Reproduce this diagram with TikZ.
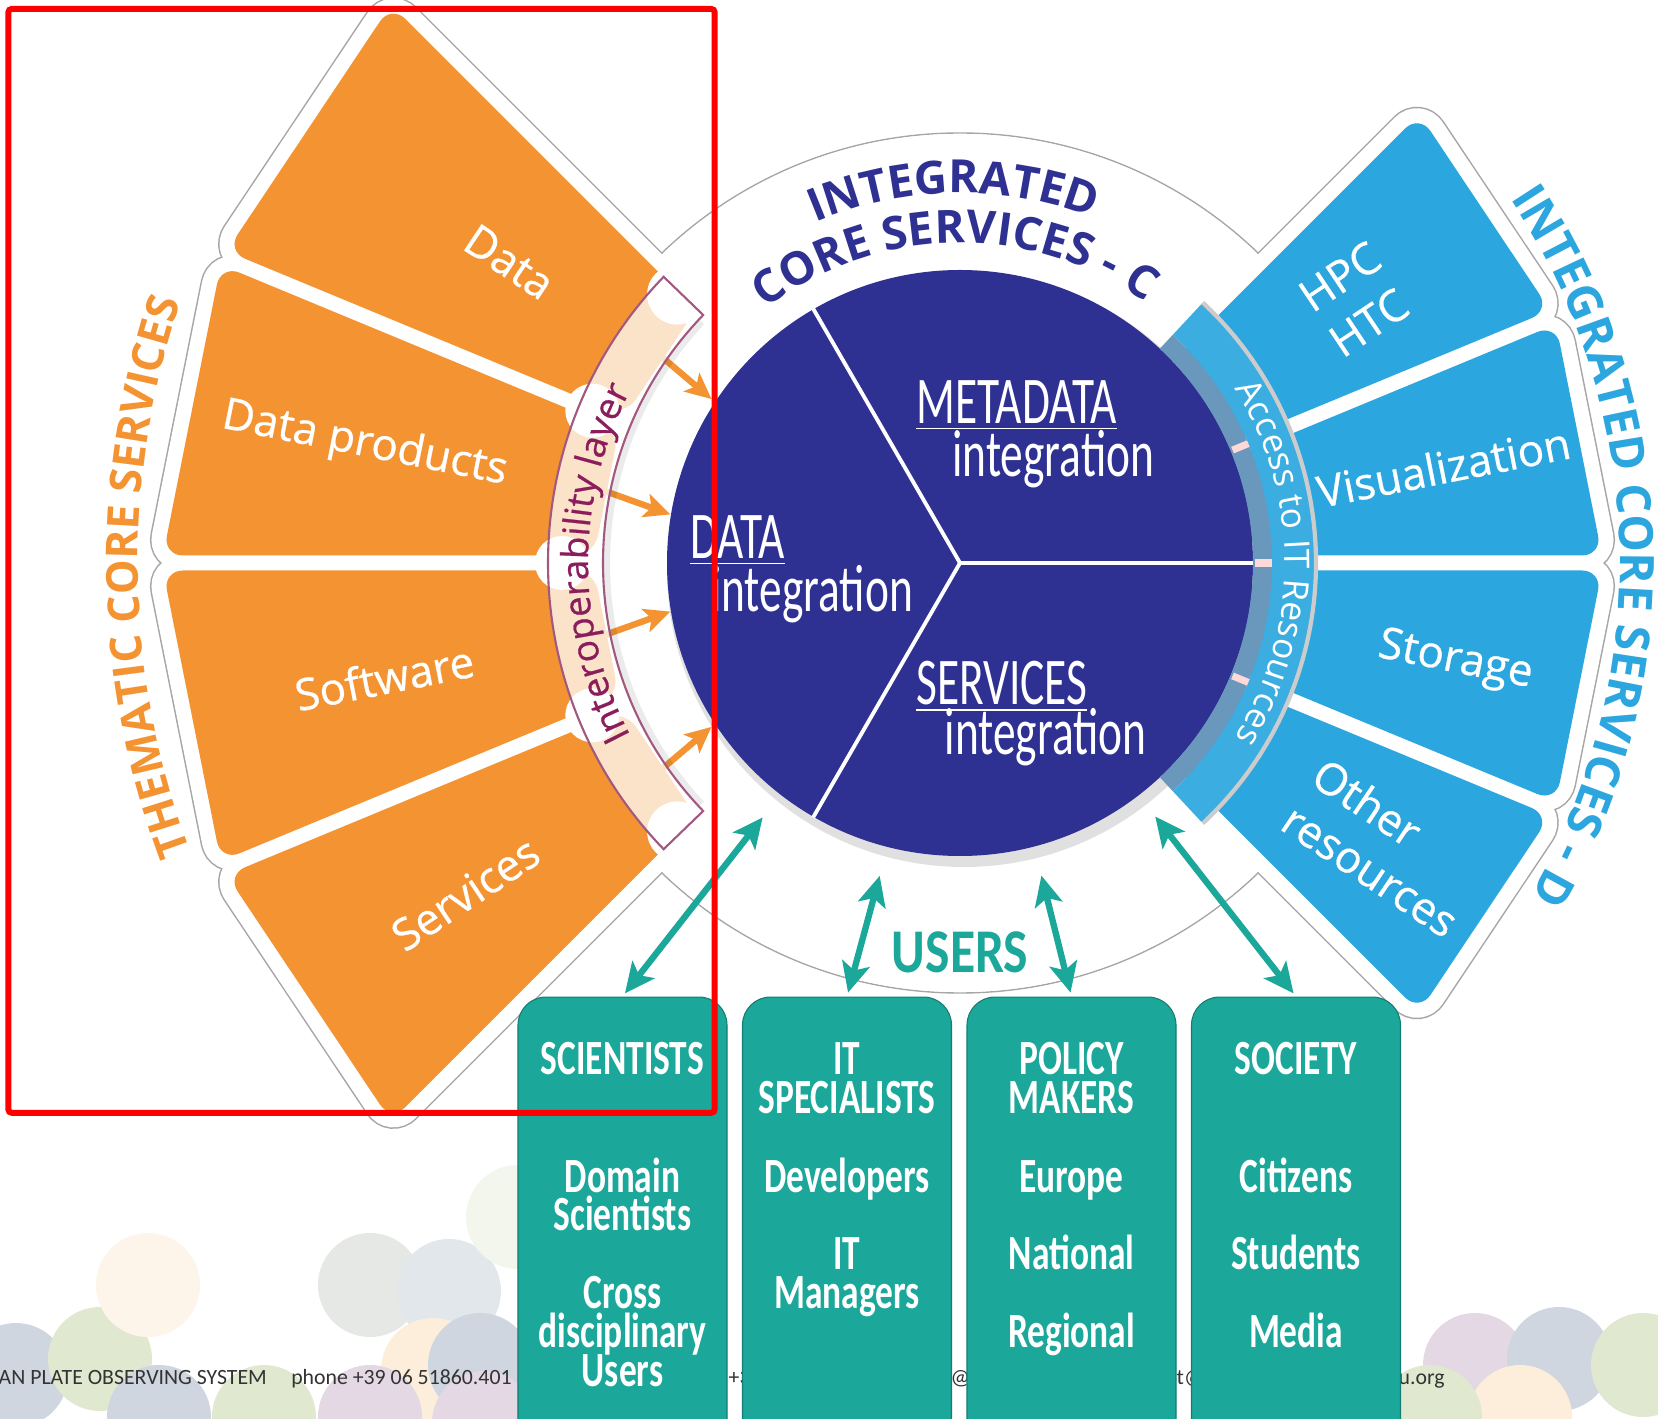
\documentclass[tikz,border=0pt]{standalone}
\usepackage{fontspec}
\setmainfont{Carlito}
\newfontfamily\titlefont{Open Sans}
\newfontfamily\labelfont[FakeBold=0.6]{Open Sans}
\newfontfamily\boxfont[FakeStretch=0.72]{Carlito}
\newfontfamily\usersfont[FakeStretch=0.83]{Carlito}
\newfontfamily\circfont[FakeStretch=0.68]{Carlito}
\usetikzlibrary{calc,positioning,arrows.meta,decorations.text}

\definecolor{tcsorange}{HTML}{F39332}
\definecolor{icsblue}{HTML}{2BA6DE}
\definecolor{icsnavy}{HTML}{2E3192}
\definecolor{userteal}{HTML}{1BA799}
\definecolor{interplum}{HTML}{8B1D5C}
\definecolor{interline}{HTML}{A35880}
\definecolor{accessgrey}{HTML}{6A97BC}
\definecolor{dotblue}{HTML}{CFD6E0}
\definecolor{dotgreen}{HTML}{E1E8D0}
\definecolor{dotpeach}{HTML}{FCEEDA}
\definecolor{dotlav}{HTML}{E3D8E3}
\definecolor{dotgrey}{HTML}{E6E8E5}

% one block of a fan, pulled in from both divider lines
\newcommand\fanblock[5]{($(#1:#3)+(#1+90:#5)$) -- ($(#1:#4)+(#1+90:#5)$) -- ($(#2:#4)+(#2-90:#5)$) -- ($(#2:#3)+(#2-90:#5)$) -- cycle}
% piece of a ring
\newcommand\ringpart[4]{(#1:#3) arc[start angle=#1, end angle=#2, radius=#3] -- (#2:#4) arc[start angle=#2, end angle=#1, radius=#4] -- cycle}

\tikzset{
  fanedge/.style={draw=black!35, line width=0.33cm, rounded corners=0.2cm},
  fanwhite/.style={draw=white, fill=white, line width=0.30cm, rounded corners=0.2cm},
  tcsblock/.style={fill=tcsorange, rounded corners=0.2cm},
  icsblock/.style={fill=icsblue, rounded corners=0.2cm},
  tcslabel/.style={text=white, font=\labelfont\fontsize{12.5}{14}\selectfont},
  icslabel/.style={text=white, align=left, font=\labelfont\fontsize{12.5}{15.5}\selectfont},
  circtext/.style={text=white, anchor=base west, inner sep=0pt, font=\circfont\fontsize{19}{19}\selectfont},
  usersbox/.style={fill=userteal, draw=userteal!75!black, line width=0.3pt, rounded corners=0.28cm,
    minimum width=2.09cm, minimum height=4.7cm, anchor=north, inner sep=0pt},
  boxtext/.style={text=white, anchor=base, inner sep=0pt, font=\boxfont\bfseries\fontsize{14}{14}\selectfont},
  userarrow/.style={draw=userteal, line width=1.8pt, shorten >=0.04cm,
    {Stealth[length=0.3cm,width=0.28cm,inset=0.07cm]}-{Stealth[length=0.3cm,width=0.28cm,inset=0.07cm]}},
  feedarrow/.style={draw=tcsorange, line width=1.8pt, -{Stealth[length=0.26cm,width=0.24cm,inset=0.06cm]}},
  footer/.style={text=black!80, anchor=base west, inner sep=0pt, font=\fontsize{6.2}{6.2}\selectfont},
}

\begin{document}
\begin{tikzpicture}
  \useasboundingbox (-9.60,-8.55) rectangle (6.98,5.63);
  \clip (-9.60,-8.55) rectangle (6.98,5.63);
  \fill[white] (-9.60,-8.55) rectangle (6.98,5.63);

  % pale dots of the letterhead
  \foreach \dx/\dy/\dc in {-9.44/-8.12/dotblue, -8.60/-7.96/dotgreen, -8.12/-7.22/dotpeach!60, -8.01/-8.54/dotblue,
      -6.96/-8.54/dotgreen, -5.90/-7.22/dotgrey, -5.11/-7.28/dotblue!60, -5.27/-8.07/dotpeach, -4.80/-8.02/dotblue,
      -5.90/-8.54/dotlav, -4.76/-8.60/dotlav, -4.42/-6.54/dotgreen!40, 3.21/-7.01/dotblue!40, 5.15/-8.02/dotlav,
      5.99/-7.96/dotblue, 6.83/-8.02/dotgreen, 5.60/-8.54/dotpeach, 3.26/-8.54/dotgrey, 4.70/-8.54/dotgreen}
    \fill[\dc] (\dx,\dy) circle (0.52);

  % white ring round the core
  \draw[black!35, line width=0.4pt, fill=white] (0,0) circle (4.30);

  % fans: grey rim, white rim, then the coloured blocks
  \foreach \a in {135,157.5,180,202.5} \path[fanedge] \fanblock{\a}{\a+22.5}{3.66}{7.97}{0.075};
  \foreach \a in {-45,-22.5,0,22.5} \path[fanedge] \fanblock{\a}{\a+22.5}{2.95}{6.42}{0.075};
  \foreach \a in {135,157.5,180,202.5} \path[fanwhite] \fanblock{\a}{\a+22.5}{3.66}{7.97}{0.075};
  \foreach \a in {-45,-22.5,0,22.5} \path[fanwhite] \fanblock{\a}{\a+22.5}{2.95}{6.42}{0.075};
  \fill[white] (0,0) circle (4.29);
  \foreach \a in {135,157.5,180,202.5} \path[tcsblock] \fanblock{\a}{\a+22.5}{3.66}{7.97}{0.075};
  \foreach \a in {-45,-22.5,0,22.5} \path[icsblock] \fanblock{\a}{\a+22.5}{2.95}{6.42}{0.075};
  \foreach \a in {157.5,180,202.5} \fill[white] (\a:3.98) circle (0.27);
  \foreach \a in {136.5,223.5} \fill[white] (\a:3.90) circle (0.30);

  % core
  \fill[black, opacity=0.12] (0.04,-0.07) circle (2.97);
  \node[circle, fill=icsnavy, minimum size=5.86cm, inner sep=0pt] (core) at (0,0) {};
  \foreach \a in {0,120,240} \draw[white, line width=1.1pt] (core.center) -- (core.\a);

  % access band
  \fill[accessgrey] \ringpart{-47}{47}{2.93}{3.12};
  \fill[icsblue!92!white] \ringpart{-47}{47}{3.12}{3.55};
  \draw[black!20, line width=1.2pt] (-47:3.56) arc[start angle=-47, end angle=47, radius=3.56];
  \foreach \a in {-22.5,0,22.5} \draw[red!15!white, line width=2pt] (\a:2.95) -- (\a:3.12);

  % feeds into the core
  \coordinate (f1) at (-3.24,2.28);  \coordinate (t1) at (-2.485,1.639);
  \coordinate (f2) at (-3.86,0.83);  \coordinate (t2) at (-2.897,0.486);
  \coordinate (f3) at (-3.86,-0.83); \coordinate (t3) at (-2.897,-0.486);
  \coordinate (f4) at (-3.24,-2.28); \coordinate (t4) at (-2.485,-1.639);
  \foreach \i in {1,...,4} \draw[feedarrow] (f\i) -- (t\i);

  % interoperability band
  \fill[black, opacity=0.08] \ringpart{137}{223}{3.50}{3.57};
  \filldraw[fill=white, fill opacity=0.74, draw=interline, line width=0.6pt] \ringpart{136}{224}{3.57}{4.12};

  % texts along the rings
  \path[decorate, decoration={text along path, text align=center, text color=tcsorange,
    text={|\titlefont\bfseries\fontsize{12.5}{12.5}\selectfont|THEMATIC CORE SERVICES}}]
    (216:8.22) arc[start angle=216, end angle=146, radius=8.22];
  \path[decorate, decoration={text along path, text align=center, text color=icsblue,
    text={|\titlefont\bfseries\fontsize{13.5}{13.5}\selectfont|INTEGRATED CORE SERVICES - D}}]
    (41.65:6.60) arc[start angle=41.65, end angle=-38.35, radius=6.60];
  \path[decorate, decoration={text along path, text align=center, text color=icsnavy,
    text={|\titlefont\bfseries\fontsize{13}{13}\selectfont|INTEGRATED}}]
    (121:3.70) arc[start angle=121, end angle=61, radius=3.70];
  \path[decorate, decoration={text along path, text align=center, text color=icsnavy,
    text={|\titlefont\bfseries\fontsize{13}{13}\selectfont|CORE SERVICES - C}}]
    (136:3.20) arc[start angle=136, end angle=46, radius=3.20];
  \path[decorate, decoration={text along path, text align=center, text color=interplum,
    text={|\labelfont\fontsize{10.5}{10.5}\selectfont|Interoperability layer}}]
    (210:3.72) arc[start angle=210, end angle=150, radius=3.72];
  \path[decorate, decoration={text along path, text align=center, text color=white,
    text={|\titlefont\fontsize{10}{10}\selectfont|Access to IT Resources}}]
    (40:3.25) arc[start angle=40, end angle=-40, radius=3.25];

  % block labels
  \node[tcslabel, rotate=-33.75] (data) at (146.25:5.42) {Data};
  \node[tcslabel, rotate=-11.25] (dataprod) at (168.75:6.07) {Data products};
  \node[tcslabel, rotate=11.25] (software) at (191.25:5.87) {Software};
  \node[tcslabel, rotate=33.75] (services) at (213.75:5.95) {Services};
  \node[icslabel, rotate=33.75] (hpc) at (33.75:4.75) {HPC\\HTC};
  \node[icslabel, rotate=11.25] (visual) at (11.25:4.93) {Visualization};
  \node[icslabel, rotate=-11.25] (storage) at (-11.25:5.05) {Storage};
  \node[icslabel, rotate=-33.75] (other) at (-33.75:5.12) {Other\\resources};

  % core parts
  \node[circtext] (meta) at (-0.444,1.396) {\underline{METADATA}};
  \node[circtext] (metaint) at (-0.085,0.867) {integration};
  \node[circtext] (dataint) at (-2.707,0.042) {\underline{DATA}};
  \node[circtext] (datint) at (-2.496,-0.486) {integration};
  \node[circtext] (serv) at (-0.444,-1.417) {\underline{SERVICES}};
  \node[circtext] (servint) at (-0.159,-1.914) {integration};

  % letterhead line
  \node[footer] (foot1) at (-9.62,-8.21) {AN PLATE OBSERVING SYSTEM};
  \node[footer, base right=0.23cm of foot1] (foot2) {phone +39 06 51860.401};
  \node[footer] (foot3) at (-2.32,-8.21) {+3};
  \node[footer] (foot4) at (-0.10,-8.21) {@i};
  \node[footer] (foot5) at (2.16,-8.21) {t@};
  \node[footer] (foot6) at (4.38,-8.21) {u.org};

  % users
  \node[usersbox] (sci) at (-3.375,-4.335) {};
  \node[usersbox] (itsp) at (-1.130,-4.335) {};
  \node[usersbox] (policy) at (1.115,-4.335) {};
  \node[usersbox] (society) at (3.360,-4.335) {};
  \foreach \dy/\txt [count=\k] in {0.775/SCIENTISTS, 1.955/Domain, 2.335/Scientists, 3.121/Cross, 3.512/disciplinary, 3.904/Users}
    \node[boxtext] (sci-\k) at ($(sci.north)+(0,-\dy)$) {\txt};
  \foreach \dy/\txt [count=\k] in {0.775/IT, 1.165/SPECIALISTS, 1.955/Developers, 2.73/IT, 3.121/Managers}
    \node[boxtext] (itsp-\k) at ($(itsp.north)+(0,-\dy)$) {\txt};
  \foreach \dy/\txt [count=\k] in {0.775/POLICY, 1.165/MAKERS, 1.955/Europe, 2.73/National, 3.512/Regional}
    \node[boxtext] (policy-\k) at ($(policy.north)+(0,-\dy)$) {\txt};
  \foreach \dy/\txt [count=\k] in {0.775/SOCIETY, 1.955/Citizens, 2.73/Students, 3.512/Media}
    \node[boxtext] (society-\k) at ($(society.north)+(0,-\dy)$) {\txt};

  \node[text=userteal, font=\usersfont\bfseries\fontsize{17.7}{17.7}\selectfont] (users) at (0,-3.891) {USERS};
  \coordinate (u1) at (232.2:3.22);
  \coordinate (u2) at (255.6:3.23);
  \coordinate (u3) at (284.6:3.23);
  \coordinate (u4) at (307.6:3.20);
  \draw[userarrow] (u1) -- (sci.north);
  \draw[userarrow] (u2) -- (itsp.north);
  \draw[userarrow] (u3) -- (policy.north);
  \draw[userarrow] (u4) -- (society.north);

  % marked area
  \draw[red, line width=1.7pt, rounded corners=1pt] (-9.517,-5.498) rectangle (-2.453,5.541);
\end{tikzpicture}
\end{document}
